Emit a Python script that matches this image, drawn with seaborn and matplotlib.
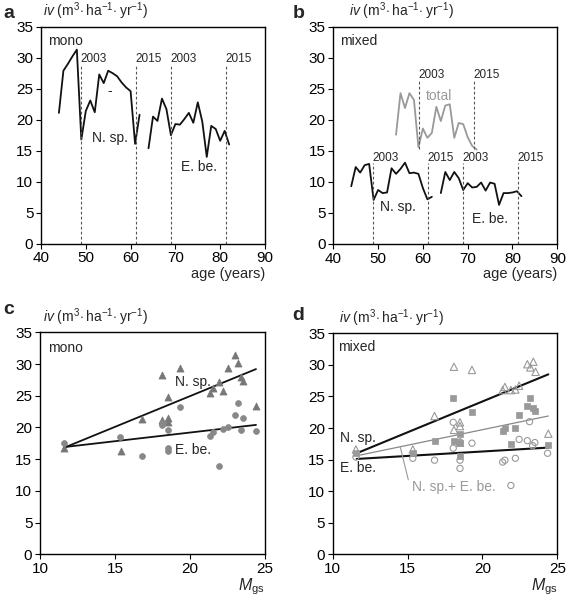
import numpy as np
import pandas as pd
import matplotlib
matplotlib.use('Agg')
import matplotlib.pyplot as plt
import seaborn as sns

sns.set_theme(style='ticks')
plt.rcParams['font.family'] = ['Liberation Sans', 'DejaVu Sans']
plt.rcParams['mathtext.fontset'] = 'custom'
plt.rcParams['mathtext.rm'] = 'Liberation Sans'
plt.rcParams['mathtext.it'] = 'Liberation Sans:italic'
plt.rcParams['mathtext.bf'] = 'Liberation Sans:bold'

# ---- panel a / b: annual increment vs stand age ----
age_nsp = [44, 45, 46, 47, 48, 49, 50, 51, 52, 53, 54, 55, 56, 57, 58, 59, 60, 61, 62]
age_ebe = [64, 65, 66, 67, 68, 69, 70, 71, 72, 73, 74, 75, 76, 77, 78, 79, 80, 81, 82]
age_total = [54, 55, 56, 57, 58, 59, 60, 61, 62, 63, 64, 65, 66, 67, 68, 69, 70, 71, 72]

mono_nsp = [21.1, 27.9, 29.0, 30.2, 31.3, 16.8, 21.4, 23.1, 21.2, 27.3, 25.9, 27.9,
            27.5, 27.0, 26.0, 25.2, 24.6, 16.1, 20.8]
mono_ebe = [15.4, 20.5, 19.8, 23.4, 21.7, 17.5, 19.3, 19.2, 20.1, 21.1, 19.5, 22.8,
            19.7, 14.0, 19.0, 18.5, 16.6, 18.2, 16.0]
mixed_nsp = [9.3, 12.4, 11.5, 12.7, 12.9, 7.1, 8.7, 8.2, 8.3, 12.2, 11.3, 12.1,
             13.1, 11.4, 11.5, 11.3, 9.0, 7.2, 7.6]
mixed_ebe = [8.2, 11.6, 10.3, 11.6, 10.6, 8.7, 9.8, 9.1, 9.2, 9.9, 8.6, 9.9,
             9.7, 6.3, 8.2, 8.2, 8.3, 8.5, 7.7]
mixed_total = [17.6, 24.3, 21.9, 24.3, 23.2, 15.6, 18.6, 17.1, 17.9, 22.1, 19.8, 22.3,
               22.5, 17.1, 19.5, 19.3, 17.2, 15.8, 15.2]

# ---- panel c: mono, iv vs M_gs ----
c_nsp_x = [11.6, 15.4, 16.8, 18.1, 18.1, 18.5, 18.5, 18.5, 19.3, 21.35, 21.5, 21.9,
           22.2, 22.5, 23.0, 23.2, 23.4, 23.55, 24.4]
c_nsp_y = [16.7, 16.3, 21.4, 28.2, 21.1, 24.8, 21.5, 20.8, 29.3, 25.5, 26.2, 27.2,
           25.8, 29.3, 31.5, 30.1, 27.9, 27.3, 23.4]
c_ebe_x = [11.6, 15.35, 16.8, 18.1, 18.1, 18.5, 18.5, 18.5, 19.3, 21.35, 21.5, 21.9,
           22.2, 22.5, 23.0, 23.2, 23.4, 23.55, 24.4]
c_ebe_y = [17.6, 18.5, 15.5, 20.7, 20.4, 19.6, 16.7, 16.3, 23.2, 18.6, 19.3, 13.9,
           19.7, 20.0, 21.9, 23.8, 19.6, 21.5, 19.5]
fit_x = [11.6, 24.4]
c_nsp_fit = [16.8, 29.2]
c_ebe_fit = [16.9, 20.4]

# ---- panel d: mixed, iv vs M_gs ----
d_nsp_x = [11.55, 15.35, 16.8, 18.1, 18.1, 18.5, 18.5, 18.5, 19.3, 21.35, 21.5, 21.9,
           22.2, 22.45, 23.0, 23.2, 23.4, 23.55, 24.4]
d_nsp_y = [16.6, 16.6, 21.9, 29.7, 19.7, 20.9, 20.3, 17.7, 29.2, 26.0, 26.5, 26.0,
           26.1, 26.7, 30.1, 29.6, 30.5, 28.9, 19.1]
d_tot_x = [11.55, 15.35, 16.8, 18.05, 18.1, 18.5, 18.5, 18.5, 19.3, 21.35, 21.5, 21.9,
           22.2, 22.45, 23.0, 23.2, 23.35, 23.5, 24.35]
d_tot_y = [16.1, 16.1, 18.0, 24.8, 18.0, 19.0, 17.6, 15.5, 22.6, 19.6, 20.0, 17.5,
           20.0, 22.1, 23.5, 24.7, 23.1, 22.7, 17.3]
d_ebe_x = [11.55, 15.35, 16.8, 18.05, 18.05, 18.5, 18.5, 18.5, 19.3, 21.35, 21.5, 21.9,
           22.2, 22.45, 23.0, 23.15, 23.35, 23.5, 24.35]
d_ebe_y = [15.4, 15.2, 14.9, 20.9, 16.8, 17.8, 14.9, 13.6, 17.6, 14.6, 14.9, 10.9,
           15.2, 18.2, 18.0, 21.0, 17.2, 17.7, 16.0]
d_nsp_fit = [16.0, 28.5]
d_tot_fit = [15.6, 21.9]
d_ebe_fit = [15.1, 16.9]

W, H = 567, 598
FS = 10
TFS = 11
BLACK = '#111111'
LGRAY = '#999999'
DGRAY = '#777777'
YLAB = r'$\mathit{iv}\ (\mathrm{m}^{3}\!\cdot\mathrm{ha}^{-1}\!\cdot\mathrm{yr}^{-1})$'

fig = plt.figure(figsize=(W / 100, H / 100), dpi=100)


def px_axes(left, right, top, bottom):
    return fig.add_axes([left / W, 1 - bottom / H, (right - left) / W, (bottom - top) / H])


def style(ax, xlim, xticks):
    ax.set_xlim(*xlim)
    ax.set_ylim(0, 35)
    ax.set_xticks(xticks)
    ax.set_yticks([0, 5, 10, 15, 20, 25, 30, 35])
    ax.tick_params(direction='out', length=3.5, width=0.8, labelsize=TFS, pad=2,
                   colors='black')
    for s in ax.spines.values():
        s.set_visible(True)
        s.set_linewidth(1.0)
        s.set_color('black')
    ax.set_ylabel('')


def year_lines(ax, xs, y0, y1, ytext):
    ax.vlines(xs, y0, y1, colors='#555555', linestyles=(0, (2.5, 2)), linewidth=0.8)
    for x, lab in zip(xs, ['2003', '2015'] * (len(xs) // 2)):
        ax.text(x - 0.1, ytext, lab, fontsize=8.5, ha='left', va='center')


def line(ax, x, y, color=BLACK, lw=1.3):
    sns.lineplot(x=x, y=y, ax=ax, color=color, linewidth=lw, estimator=None, sort=False)


# panel a
ax = px_axes(41, 265, 26.7, 243.7)
line(ax, age_nsp, mono_nsp)
line(ax, age_ebe, mono_ebe)
year_lines(ax, [48.9, 61.1, 69.0, 81.3], 0, 29.0, 29.8)
style(ax, (40, 90), [40, 50, 60, 70, 80, 90])
ax.set_xlabel('age (years)', loc='right', fontsize=FS + 0.5, labelpad=1)
ax.text(45.4, 32.7, 'mono', fontsize=FS, ha='center', va='center')
ax.text(55.3, 17.0, 'N. sp.', fontsize=FS, ha='center', va='center')
ax.text(75.3, 12.4, 'E. be.', fontsize=FS, ha='center', va='center')
ax.text(55.4, 24.6, '-', fontsize=FS, ha='center', va='center')
ax.text(0.01, 1.02, YLAB, transform=ax.transAxes, fontsize=FS, ha='left', va='bottom')

# panel b
ax = px_axes(333.3, 557.3, 26.7, 244)
line(ax, age_total, mixed_total, color=LGRAY)
line(ax, age_nsp, mixed_nsp)
line(ax, age_ebe, mixed_ebe)
year_lines(ax, [48.8, 61.1, 69.0, 81.2], 0, 13.1, 13.8)
year_lines(ax, [59.05, 71.4], 15.3, 26.5, 27.2)
style(ax, (40, 90), [40, 50, 60, 70, 80, 90])
ax.set_xlabel('age (years)', loc='right', fontsize=FS + 0.5, labelpad=1)
ax.text(45.7, 32.7, 'mixed', fontsize=FS, ha='center', va='center')
ax.text(63.7, 23.9, 'total', fontsize=FS, ha='center', va='center', color=LGRAY)
ax.text(54.5, 6.0, 'N. sp.', fontsize=FS, ha='center', va='center')
ax.text(75.0, 4.1, 'E. be.', fontsize=FS, ha='center', va='center')
ax.text(0.07, 1.02, YLAB, transform=ax.transAxes, fontsize=FS, ha='left', va='bottom')

# panel c
ax = px_axes(40, 265, 332.3, 554.3)
sns.scatterplot(x=c_nsp_x, y=c_nsp_y, ax=ax, marker='^', s=26, color=DGRAY,
                edgecolor=DGRAY, linewidth=0.5, zorder=3)
sns.scatterplot(x=c_ebe_x, y=c_ebe_y, ax=ax, marker='o', s=18, color='#888888',
                edgecolor='#888888', linewidth=0.5, zorder=3)
line(ax, fit_x, c_nsp_fit, lw=1.3)
line(ax, fit_x, c_ebe_fit, lw=1.3)
style(ax, (10, 25), [10, 15, 20, 25])
ax.set_xlabel(r'$M_{\mathrm{gs}}$', loc='right', fontsize=FS + 1.5, labelpad=0)
ax.text(11.7, 32.6, 'mono', fontsize=FS, ha='center', va='center')
ax.text(20.2, 27.2, 'N. sp.', fontsize=FS, ha='center', va='center')
ax.text(20.2, 16.4, 'E. be.', fontsize=FS, ha='center', va='center')
ax.text(0.015, 1.02, YLAB, transform=ax.transAxes, fontsize=FS, ha='left', va='bottom')

# panel d
ax = px_axes(332.7, 557.3, 333.3, 554.3)
sns.scatterplot(x=d_tot_x, y=d_tot_y, ax=ax, marker='s', s=14, color=LGRAY,
                edgecolor=LGRAY, linewidth=0.5, zorder=3)
sns.scatterplot(x=d_nsp_x, y=d_nsp_y, ax=ax, marker='^', s=28, facecolor='none',
                edgecolor=LGRAY, linewidth=0.8, zorder=3)
sns.scatterplot(x=d_ebe_x, y=d_ebe_y, ax=ax, marker='o', s=20, facecolor='none',
                edgecolor=LGRAY, linewidth=0.8, zorder=3)
line(ax, fit_x, d_nsp_fit, lw=1.5)
line(ax, fit_x, d_tot_fit, color='#888888', lw=0.9)
line(ax, fit_x, d_ebe_fit, lw=1.5)
style(ax, (10, 25), [10, 15, 20, 25])
ax.set_xlabel(r'$M_{\mathrm{gs}}$', loc='right', fontsize=FS + 1.5, labelpad=0)
ax.text(11.6, 32.9, 'mixed', fontsize=FS, ha='center', va='center')
ax.text(10.5, 18.4, 'N. sp.', fontsize=FS, ha='left', va='center')
ax.text(10.5, 13.6, 'E. be.', fontsize=FS, ha='left', va='center')
ax.text(18.06, 10.6, 'N. sp.+ E. be.', fontsize=FS, ha='center', va='center', color=LGRAY)
ax.plot([14.5, 15.05], [17.1, 11.8], color=LGRAY, linewidth=0.8)
ax.text(0.03, 1.02, YLAB, transform=ax.transAxes, fontsize=FS, ha='left', va='bottom')

# panel letters
for lab, x, y in [('a', 3, 13), ('b', 293, 13), ('c', 3, 309), ('d', 292, 316)]:
    fig.text(x / W, 1 - y / H, lab, fontsize=14, fontweight='bold', ha='left', va='center')

fig.savefig('out.png', dpi=100)
